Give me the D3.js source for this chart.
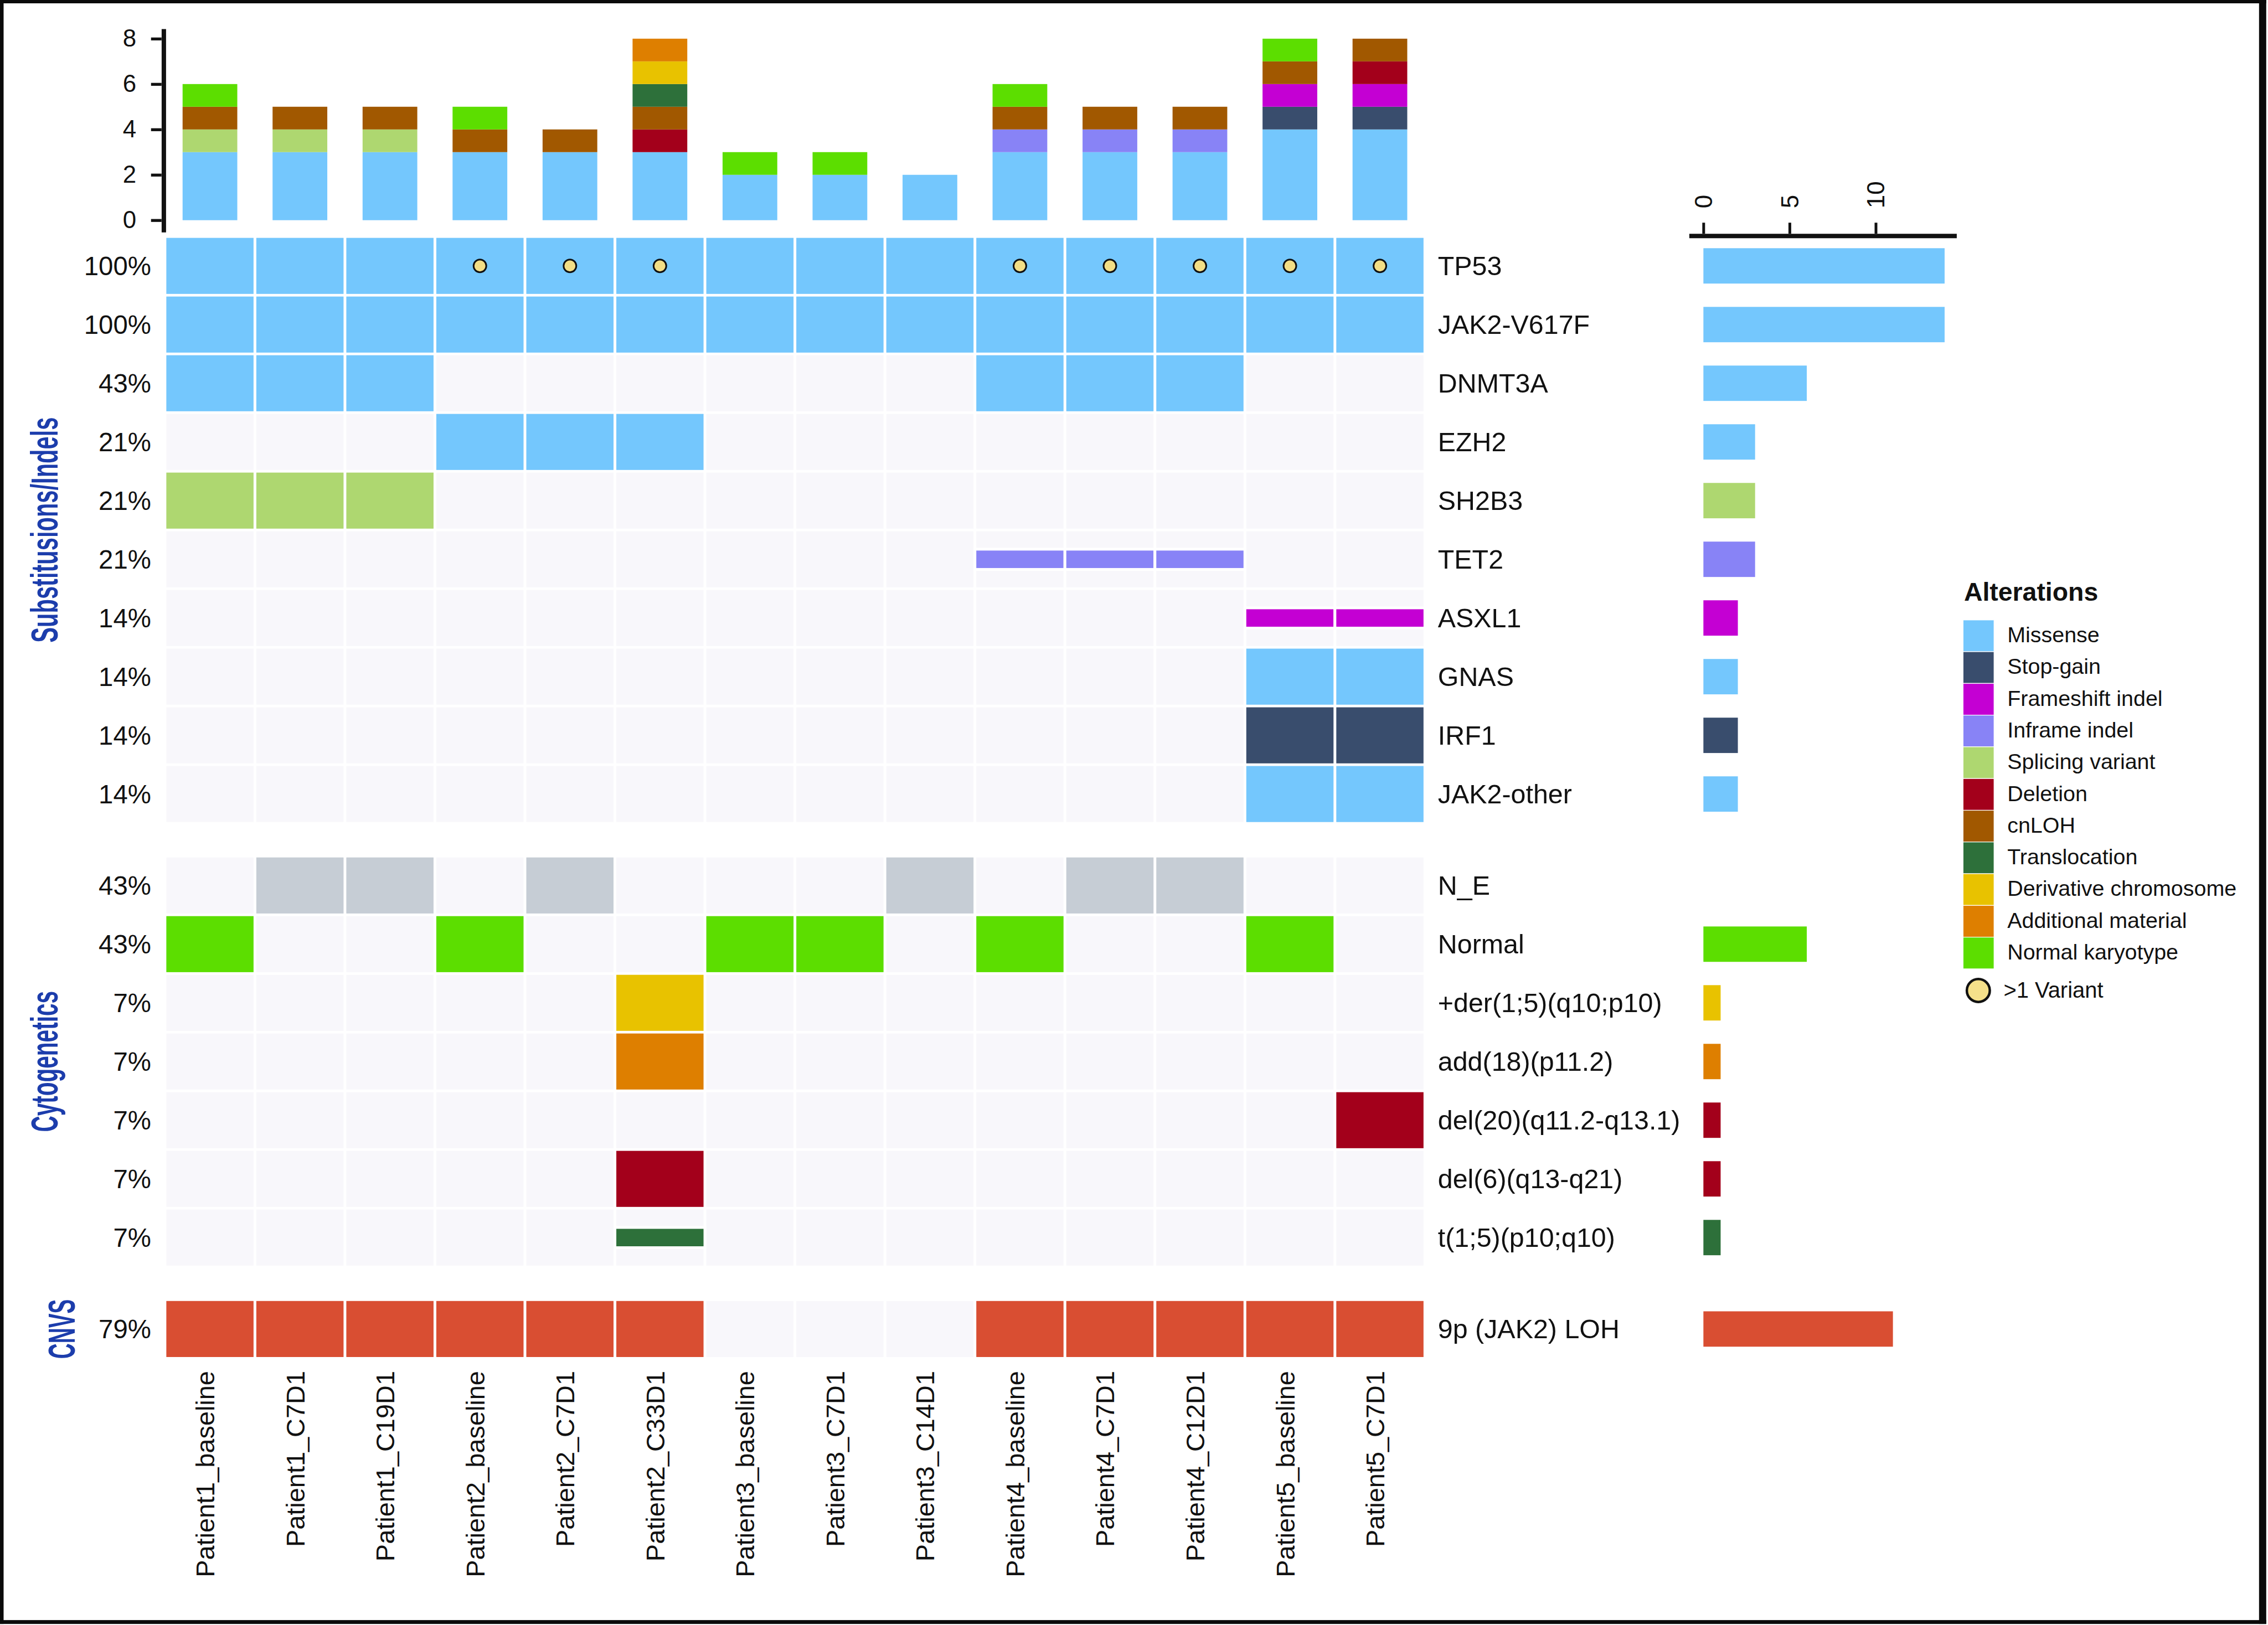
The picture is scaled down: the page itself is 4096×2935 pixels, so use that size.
<!DOCTYPE html>
<html><head><meta charset="utf-8">
<script src="https://cdn.jsdelivr.net/npm/d3@7"></script>
<style>html,body{margin:0;padding:0;background:#fff;} svg{display:block;}</style>
</head><body>
<svg id="chart" width="4096" height="2935"></svg>
<script>
// ---------------- DATA ----------------
const samples = ["Patient1_baseline","Patient1_C7D1","Patient1_C19D1","Patient2_baseline","Patient2_C7D1","Patient2_C33D1","Patient3_baseline","Patient3_C7D1","Patient3_C14D1","Patient4_baseline","Patient4_C7D1","Patient4_C12D1","Patient5_baseline","Patient5_C7D1"];

const subRows  = ["TP53","JAK2-V617F","DNMT3A","EZH2","SH2B3","TET2","ASXL1","GNAS","IRF1","JAK2-other"];
const cytoRows = ["N_E","Normal","+der(1;5)(q10;p10)","add(18)(p11.2)","del(20)(q11.2-q13.1)","del(6)(q13-q21)","t(1;5)(p10;q10)"];
const cnvRows  = ["9p (JAK2) LOH"];
const groupTitles = ["Substitusions/Indels","Cytogenetics","CNVS"];

const rowPercents = ["100%","100%","43%","21%","21%","21%","14%","14%","14%","14%","43%","43%","7%","7%","7%","7%","7%","79%"];
const rowTotals   = [14,14,6,3,3,3,2,2,2,2,0,6,1,1,1,1,1,11];
const rowBarType  = ["MIS","MIS","MIS","MIS","SPL","INF","FS","MIS","STP","MIS","","NK","DER","ADD","DEL","DEL","TRL","LOH"];

// alteration per sample, one array per row
const altTP53   = ["MIS","MIS","MIS","MIS","MIS","MIS","MIS","MIS","MIS","MIS","MIS","MIS","MIS","MIS"];
const altJAK2   = ["MIS","MIS","MIS","MIS","MIS","MIS","MIS","MIS","MIS","MIS","MIS","MIS","MIS","MIS"];
const altDNMT3A = ["MIS","MIS","MIS","","","","","","","MIS","MIS","MIS","",""];
const altEZH2   = ["","","","MIS","MIS","MIS","","","","","","","",""];
const altSH2B3  = ["SPL","SPL","SPL","","","","","","","","","","",""];
const altTET2   = ["","","","","","","","","","INF","INF","INF","",""];
const altASXL1  = ["","","","","","","","","","","","","FS","FS"];
const altGNAS   = ["","","","","","","","","","","","","MIS","MIS"];
const altIRF1   = ["","","","","","","","","","","","","STP","STP"];
const altJAK2o  = ["","","","","","","","","","","","","MIS","MIS"];
const altNE     = ["","NE","NE","","NE","","","","NE","","NE","NE","",""];
const altNormal = ["NK","","","NK","","","NK","NK","","NK","","","NK",""];
const altDer    = ["","","","","","DER","","","","","","","",""];
const altAdd    = ["","","","","","ADD","","","","","","","",""];
const altDel20  = ["","","","","","","","","","","","","","DEL"];
const altDel6   = ["","","","","","DEL","","","","","","","",""];
const altT15    = ["","","","","","TRL","","","","","","","",""];
const altLOH    = ["LOH","LOH","LOH","LOH","LOH","LOH","","","","LOH","LOH","LOH","LOH","LOH"];
const rowAlts = [altTP53,altJAK2,altDNMT3A,altEZH2,altSH2B3,altTET2,altASXL1,altGNAS,altIRF1,altJAK2o,
                 altNE,altNormal,altDer,altAdd,altDel20,altDel6,altT15,altLOH];

const multiVariantTP53 = [0,0,0,1,1,1,0,0,0,1,1,1,1,1];

// top stacked bar counts per sample
const cntMissense   = [3,3,3,3,3,3,2,2,2,3,3,3,4,4];
const cntStopGain   = [0,0,0,0,0,0,0,0,0,0,0,0,1,1];
const cntFrameshift = [0,0,0,0,0,0,0,0,0,0,0,0,1,1];
const cntInframe    = [0,0,0,0,0,0,0,0,0,1,1,1,0,0];
const cntSplicing   = [1,1,1,0,0,0,0,0,0,0,0,0,0,0];
const cntDeletion   = [0,0,0,0,0,1,0,0,0,0,0,0,0,1];
const cntCnLOH      = [1,1,1,1,1,1,0,0,0,1,1,1,1,1];
const cntTransloc   = [0,0,0,0,0,1,0,0,0,0,0,0,0,0];
const cntDerivative = [0,0,0,0,0,1,0,0,0,0,0,0,0,0];
const cntAdditional = [0,0,0,0,0,1,0,0,0,0,0,0,0,0];
const cntNormalKar  = [1,0,0,1,0,0,1,1,0,1,0,0,1,0];

const legendLabels = ["Missense","Stop-gain","Frameshift indel","Inframe indel","Splicing variant","Deletion","cnLOH","Translocation","Derivative chromosome","Additional material","Normal karyotype"];
const legendCodes  = ["MIS","STP","FS","INF","SPL","DEL","CNL","TRL","DER","ADD","NK"];
const topTicks = [0,2,4,6,8];
const rightTicks = [0,5,10];

// ---------------- STYLE ----------------
const colors = {MIS:"#74C7FD", STP:"#394D6D", FS:"#C400D3", INF:"#8883F6", SPL:"#AED770",
  DEL:"#A3001B", CNL:"#A15800", TRL:"#2D703A", DER:"#E8C200", ADD:"#DE7F00", NK:"#5CDE00",
  NE:"#C6CDD5", LOH:"#D94E32"};
const thinTypes = new Set(["INF","FS","TRL"]);
const BG = "#F8F7FB";
const FONT = "'Liberation Sans', Arial, Helvetica, sans-serif";
const NARROW = "'Liberation Sans Narrow', 'Liberation Sans', Arial, sans-serif";
const BLUE = "#1C3DAC";

const svg = d3.select("#chart");
const root = svg.append("g").attr("transform","scale(0.998)");

// frame
root.append("rect").attr("x",0).attr("y",0).attr("width",4101).attr("height",6).attr("fill","#0a0a0a");
root.append("rect").attr("x",0).attr("y",0).attr("width",6.5).attr("height",2939).attr("fill","#0a0a0a");
root.append("rect").attr("x",0).attr("y",2932).attr("width",4101).attr("height",7).attr("fill","#0a0a0a");
root.append("rect").attr("x",4088).attr("y",0).attr("width",13).attr("height",2939).attr("fill","#0a0a0a");

// scales
const x = d3.scaleBand().domain(samples).range([301, 2576]).paddingInner(0.031);
const allRows = subRows.concat(cytoRows, cnvRows);
const STEP = 106.2, GAPR = 4.8, GROUP_GAP = 59.3;
const yBand = d3.scaleBand().domain(allRows).range([430.5, 430.5 + 18*STEP - GAPR]).paddingInner(GAPR/STEP);
const groupOf = r => subRows.includes(r) ? 0 : (cytoRows.includes(r) ? 1 : 2);
const rowTop = r => yBand(r) + groupOf(r)*GROUP_GAP;
const rowH = yBand.bandwidth();
const rowMid = r => rowTop(r) + rowH/2;

// ---------------- HEATMAP ----------------
const cells = [];
allRows.forEach((r,ri) => samples.forEach((s,si) => cells.push({r, s, code: rowAlts[ri][si]})));
const gCells = root.append("g");
gCells.selectAll("rect.bg").data(cells).join("rect").attr("class","bg")
  .attr("x", d => x(d.s)).attr("y", d => rowTop(d.r))
  .attr("width", x.bandwidth()).attr("height", rowH).attr("fill", BG);
const THIN = 31.6;
const filled = cells.filter(d => d.code);
gCells.selectAll("rect.alt").data(filled).join("rect").attr("class","alt")
  .attr("x", d => x(d.s))
  .attr("y", d => thinTypes.has(d.code) ? rowMid(d.r) - THIN/2 : rowTop(d.r))
  .attr("width", x.bandwidth())
  .attr("height", d => thinTypes.has(d.code) ? THIN : rowH)
  .attr("fill", d => colors[d.code])
  .attr("stroke", d => thinTypes.has(d.code) ? "#fff" : "none")
  .attr("stroke-width", 10).attr("paint-order","stroke");

// multi-variant dots
root.append("g").selectAll("circle").data(samples.filter((s,i) => multiVariantTP53[i]))
  .join("circle").attr("cx", s => x(s) + x.bandwidth()/2).attr("cy", rowMid("TP53"))
  .attr("r", 11.5).attr("fill","#F3DE85").attr("stroke","#111").attr("stroke-width",3);

// ---------------- TOP STACKED BARS ----------------
const stackTable = samples.map((s,i) => ({sample:s, MIS:cntMissense[i], STP:cntStopGain[i], FS:cntFrameshift[i],
  INF:cntInframe[i], SPL:cntSplicing[i], DEL:cntDeletion[i], CNL:cntCnLOH[i], TRL:cntTransloc[i],
  DER:cntDerivative[i], ADD:cntAdditional[i], NK:cntNormalKar[i]}));
const series = d3.stack().keys(legendCodes)(stackTable);
const yTop = d3.scaleLinear().domain([0,8]).range([398.5, 70]);
const BARW = 99;
const gTop = root.append("g");
series.forEach(ser => {
  gTop.append("g").attr("fill", colors[ser.key]).selectAll("rect")
    .data(ser.filter(d => d[1] > d[0])).join("rect")
    .attr("x", d => x(d.data.sample) + x.bandwidth()/2 - BARW/2)
    .attr("y", d => yTop(d[1]))
    .attr("width", BARW).attr("height", d => yTop(d[0]) - yTop(d[1]));
});
const axL = root.append("g").attr("transform","translate(292.3,0)")
  .call(d3.axisLeft(yTop).tickValues(topTicks).tickSize(19).tickPadding(26.6));
axL.select(".domain").remove();
axL.selectAll(".tick line").attr("stroke","#111").attr("stroke-width",5.3);
axL.selectAll(".tick text").attr("font-family",FONT).attr("font-size",44).attr("fill","#111");
root.append("line").attr("x1",296.5).attr("x2",296.5).attr("y1",52.7).attr("y2",420.7)
  .attr("stroke","#111").attr("stroke-width",8);

// ---------------- RIGHT BARS ----------------
const xR = d3.scaleLinear().domain([0,14]).range([3082.5, 3519]);
const RBH = 64;
const rightData = allRows.map((r,i) => ({r, v: rowTotals[i], code: rowBarType[i]})).filter(d => d.v > 0);
root.append("g").selectAll("rect").data(rightData).join("rect")
  .attr("x", xR(0)).attr("y", d => rowMid(d.r) - RBH/2)
  .attr("width", d => xR(d.v) - xR(0)).attr("height", RBH).attr("fill", d => colors[d.code]);
const axR = root.append("g").attr("transform","translate(0,423)")
  .call(d3.axisTop(xR).tickValues(rightTicks).tickSize(20).tickFormat(""));
axR.select(".domain").remove();
axR.selectAll(".tick line").attr("stroke","#111").attr("stroke-width",5);
root.append("line").attr("x1",3057).attr("x2",3541).attr("y1",427).attr("y2",427)
  .attr("stroke","#111").attr("stroke-width",8);
root.append("g").selectAll("text").data(rightTicks).join("text")
  .attr("transform", v => `translate(${xR(v)},377) rotate(-90)`)
  .attr("dy","0.36em").attr("text-anchor","start")
  .attr("font-family",FONT).attr("font-size",44).attr("fill","#111").text(v => v);

// ---------------- LABELS ----------------
root.append("g").selectAll("text").data(allRows).join("text")
  .attr("x", 273.5).attr("y", r => rowMid(r)).attr("dy","0.35em").attr("text-anchor","end")
  .attr("font-family",FONT).attr("font-size",47.5).attr("fill","#111")
  .text((r,i) => rowPercents[i]);
root.append("g").selectAll("text").data(allRows).join("text")
  .attr("x", 2602).attr("y", r => rowMid(r)).attr("dy","0.35em").attr("text-anchor","start")
  .attr("font-family",FONT).attr("font-size",48.5).attr("fill","#111").text(r => r);
root.append("g").selectAll("text").data(samples).join("text")
  .attr("transform", s => `translate(${x(s) + x.bandwidth()/2 + 8},2481) rotate(-90)`)
  .attr("text-anchor","end").attr("font-family",FONT).attr("font-size",47).attr("fill","#111")
  .text(s => s);

// group titles
const groupRows = [subRows, cytoRows, cnvRows];
const groupLen = [408, 255, 108];
const groupBaseX = [104.5, 104, 135];
root.append("g").selectAll("text").data(groupTitles).join("text")
  .attr("transform", (t,i) => {
    const rs = groupRows[i];
    const cy = (rowTop(rs[0]) + rowTop(rs[rs.length-1]) + rowH)/2;
    return `translate(${groupBaseX[i]},${cy}) rotate(-90)`;
  })
  .attr("text-anchor","middle").attr("font-family",NARROW).attr("font-weight","bold")
  .attr("font-size",68).attr("fill",BLUE)
  .attr("textLength",(t,i) => groupLen[i]).attr("lengthAdjust","spacingAndGlyphs")
  .text(t => t);

// ---------------- LEGEND ----------------
const lg = root.append("g");
lg.append("text").attr("x",3554).attr("y",1086.7).attr("font-family",FONT).attr("font-weight","bold")
  .attr("font-size",46.5).attr("fill","#111").text("Alterations");
const LS = 57.4, LY0 = 1122;
lg.selectAll("rect").data(legendCodes).join("rect")
  .attr("x",3552.4).attr("y",(c,i) => LY0 + i*LS).attr("width",56).attr("height",LS)
  .attr("fill", c => colors[c]).attr("stroke","#fff").attr("stroke-width",1.2);
lg.selectAll("text.lab").data(legendLabels).join("text").attr("class","lab")
  .attr("x",3632.5).attr("y",(t,i) => LY0 + i*LS + LS/2 - 2).attr("dy","0.35em")
  .attr("font-family",FONT).attr("font-size",39.5).attr("fill","#111").text(t => t);
lg.append("circle").attr("cx",3580).attr("cy",1792.6).attr("r",20.8)
  .attr("fill","#F5E08A").attr("stroke","#111").attr("stroke-width",4.5);
lg.append("text").attr("x",3625.7).attr("y",1806).attr("font-family",FONT).attr("font-size",40)
  .attr("fill","#111").text(">1 Variant");
</script>
</body></html>
